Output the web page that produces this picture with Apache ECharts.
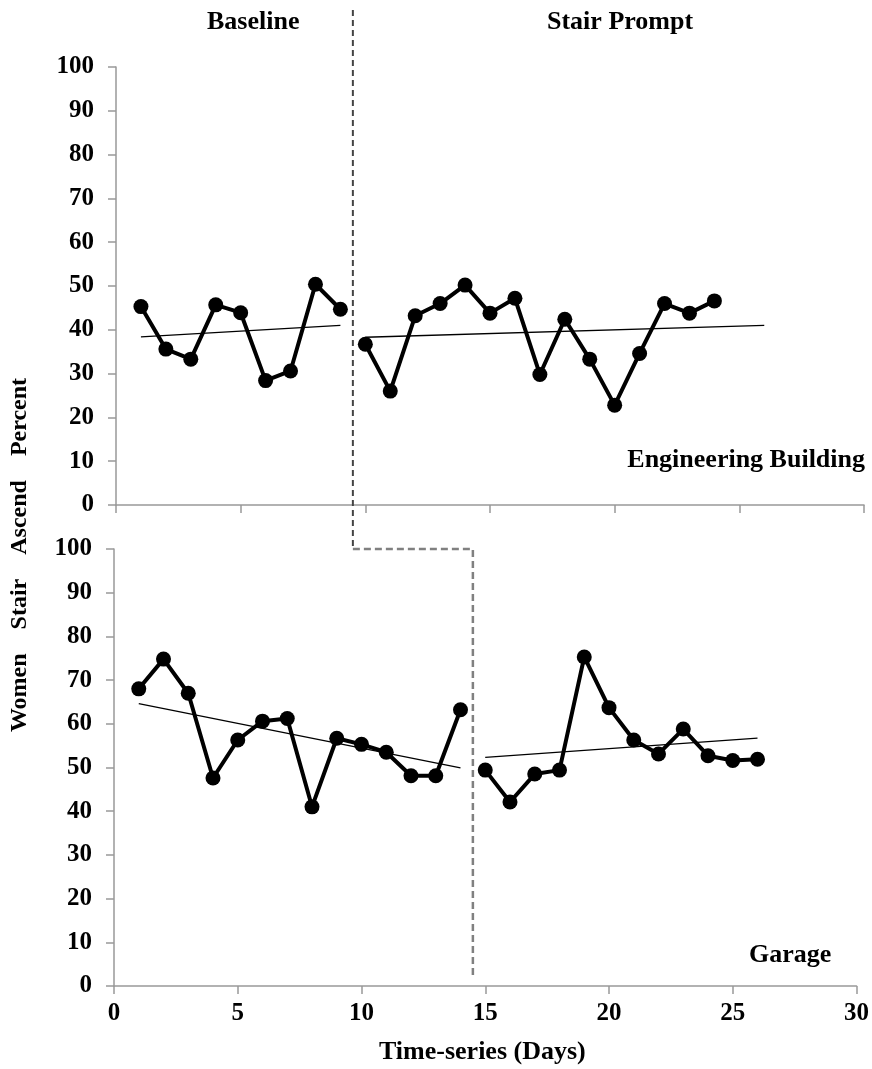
<!DOCTYPE html>
<html>
<head>
<meta charset="utf-8">
<script src="https://cdn.jsdelivr.net/npm/echarts@6/dist/echarts.min.js"></script>
<style>html,body{margin:0;padding:0;background:#fff}#c{width:872px;height:1069px}</style>
</head>
<body>
<div id="c"></div>
<script>
// Engineering Building
var engBaseDays = [1,2,3,4,5,6,7,8,9];
var engBaseVals = [45.3,35.6,33.3,45.7,43.9,28.4,30.6,50.4,44.7];
var engPromptDays = [10,11,12,13,14,15,16,17,18,19,20,21,22,23,24];
var engPromptVals = [36.7,26.0,43.2,46.0,50.2,43.8,47.2,29.8,42.4,33.3,22.8,34.6,46.0,43.8,46.6];
var engBaseTrend = [[1,38.4],[9,41.0]];
var engPromptTrend = [[10,38.3],[26,41.0]];
// Garage
var garBaseDays = [1,2,3,4,5,6,7,8,9,10,11,12,13,14];
var garBaseVals = [68.0,74.8,67.0,47.6,56.3,60.6,61.2,41.0,56.7,55.3,53.5,48.1,48.1,63.2];
var garPromptDays = [15,16,17,18,19,20,21,22,23,24,25,26];
var garPromptVals = [49.4,42.1,48.5,49.4,75.3,63.7,56.3,53.1,58.8,52.7,51.6,51.9];
var garBaseTrend = [[1,64.6],[14,49.9]];
var garPromptTrend = [[15,52.3],[26,56.7]];
var xTicks = [0,5,10,15,20,25,30];
var yTicks = [0,10,20,30,40,50,60,70,80,90,100];
var phaseChangeEng = 9.5, phaseChangeGar = 14.5;

function zip(a,b){return a.map(function(v,i){return [v,b[i]];});}
var FONT = 'Liberation Serif';
var lbl = {color:'#000', fontFamily:FONT, fontWeight:'bold', fontSize:25};

function xAx(gi, showLabel){
  return {type:'value', gridIndex:gi, min:0, max:30, interval:5,
    axisLine:{lineStyle:{color:'#999', width:1.5}},
    axisTick:{show:true, length:8, lineStyle:{color:'#999', width:1.5}},
    axisLabel:Object.assign({show:showLabel, margin:15}, lbl),
    splitLine:{show:false}};
}
function yAx(gi){
  return {type:'value', gridIndex:gi, min:0, max:100, interval:10,
    axisLine:{show:true, lineStyle:{color:'#999', width:1.5}},
    axisTick:{show:true, length:8, lineStyle:{color:'#999', width:1.5}},
    axisLabel:Object.assign({margin:22}, lbl),
    splitLine:{show:false}};
}
function dataSeries(gi, d){
  return {type:'line', xAxisIndex:gi, yAxisIndex:gi, data:d, symbol:'circle', symbolSize:15,
    lineStyle:{color:'#000', width:4}, itemStyle:{color:'#000'}, animation:false, z:3};
}
function trendSeries(gi, d){
  return {type:'line', xAxisIndex:gi, yAxisIndex:gi, data:d, symbol:'none',
    lineStyle:{color:'#000', width:1.3}, animation:false, z:2};
}
var chart = echarts.init(document.getElementById('c'));
chart.setOption({
  animation:false,
  grid:[{left:116, right:8, top:67, height:438},
        {left:114, right:15, top:549, height:437}],
  xAxis:[xAx(0,false), xAx(1,true)],
  yAxis:[yAx(0), yAx(1)],
  series:[
    dataSeries(0, zip(engBaseDays, engBaseVals)),
    dataSeries(0, zip(engPromptDays, engPromptVals)),
    trendSeries(0, engBaseTrend),
    trendSeries(0, engPromptTrend),
    dataSeries(1, zip(garBaseDays, garBaseVals)),
    dataSeries(1, zip(garPromptDays, garPromptVals)),
    trendSeries(1, garBaseTrend),
    trendSeries(1, garPromptTrend)
  ]
});
var x1 = chart.convertToPixel({xAxisIndex:0}, phaseChangeEng);
var x2 = chart.convertToPixel({xAxisIndex:1}, phaseChangeGar);
var yJoin = chart.convertToPixel({yAxisIndex:1}, 100);
var yEnd = chart.convertToPixel({yAxisIndex:1}, 1.8);
var tStyle = function(t, extra){return Object.assign({text:t, fill:'#000', font:'bold 26px "Liberation Serif"'}, extra||{});};
chart.setOption({graphic:[
  {type:'polyline', shape:{points:[[x1,10],[x1,yJoin]]}, style:{stroke:'#444', lineWidth:2, lineDash:[6,4], fill:null}, z:5},
  {type:'polyline', shape:{points:[[x1,yJoin],[x2,yJoin],[x2,yEnd]]}, style:{stroke:'#808080', lineWidth:2.5, lineDash:[7,4], fill:null}, z:5},
  {type:'text', left:207, top:9, style:tStyle('Baseline')},
  {type:'text', left:547, top:9, style:tStyle('Stair Prompt')},
  {type:'text', right:7, top:447, style:tStyle('Engineering Building')},
  {type:'text', left:749, top:942, style:tStyle('Garage')},
  {type:'text', left:379, top:1039, style:tStyle('Time-series (Days)')},
  {type:'text', x:20, y:555, rotation:Math.PI/2,
    style:tStyle('Women    Stair    Ascend    Percent', {font:'bold 24px "Liberation Serif"', textAlign:'center', textVerticalAlign:'middle'})}
]});
</script>
</body>
</html>
